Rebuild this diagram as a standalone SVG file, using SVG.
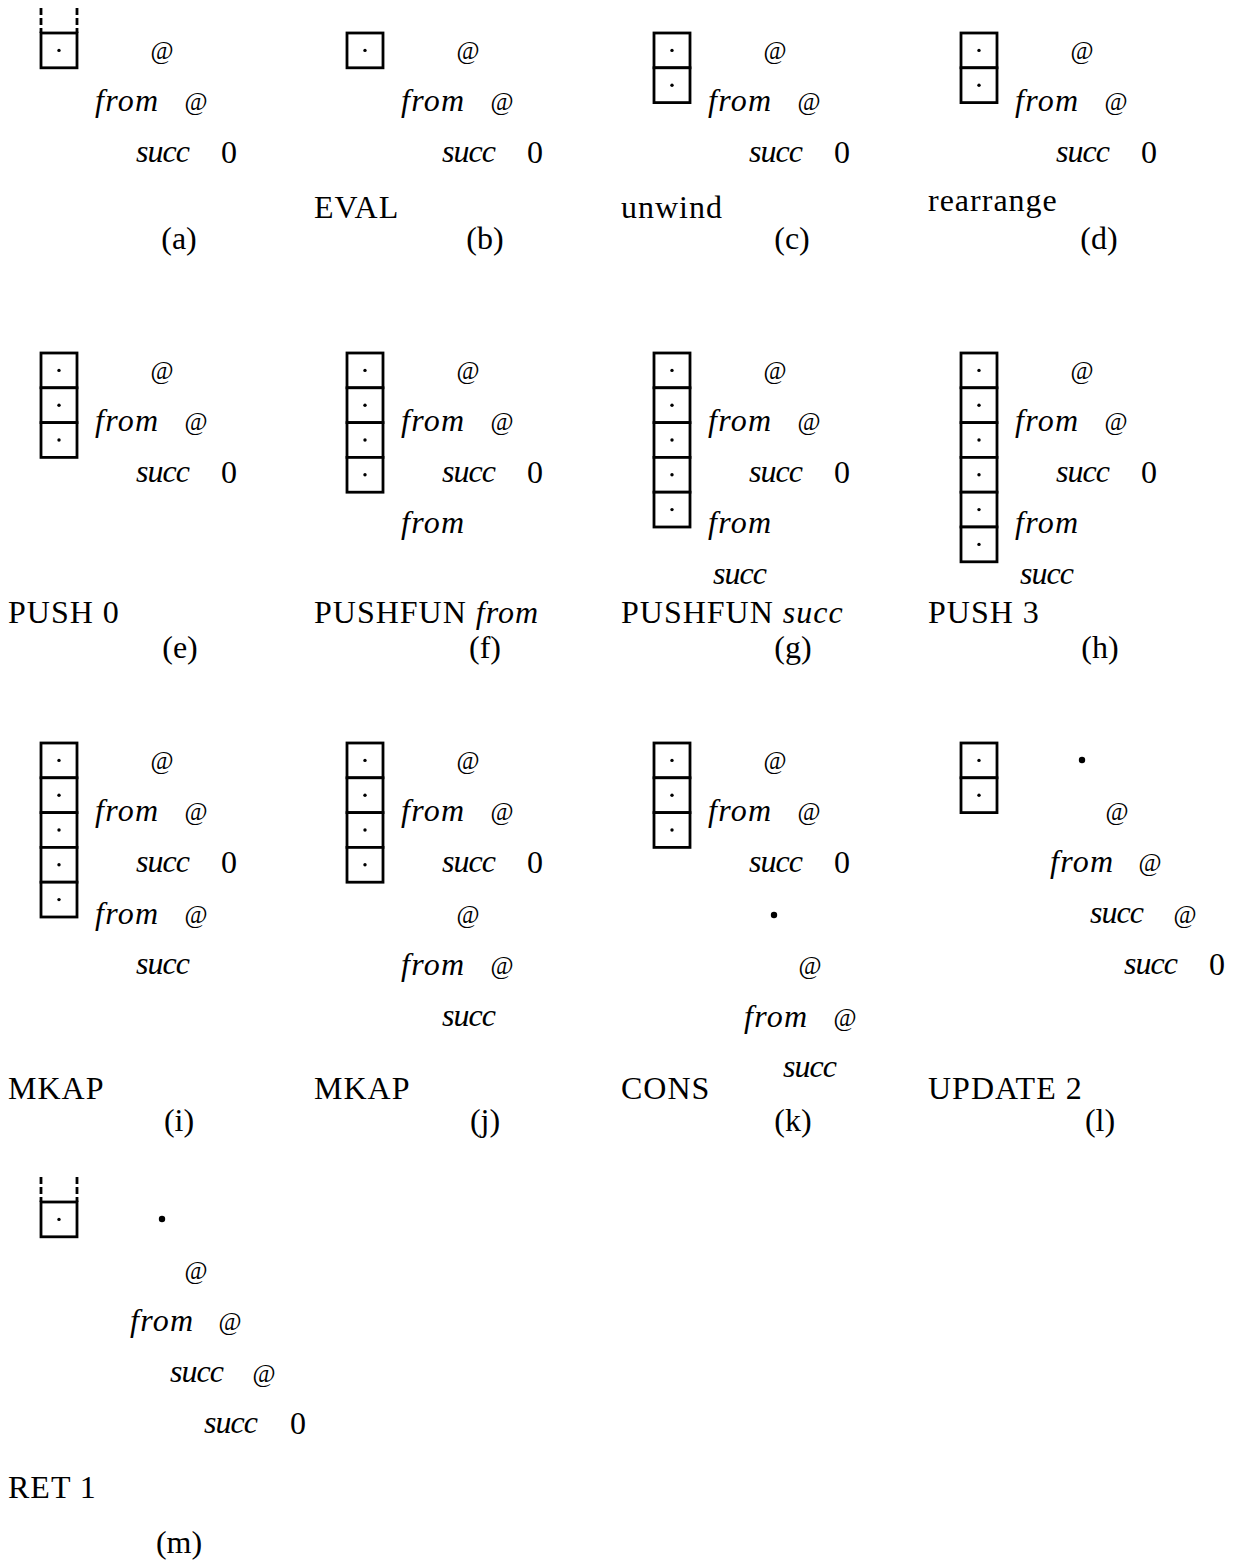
<svg xmlns="http://www.w3.org/2000/svg" xmlns:xlink="http://www.w3.org/1999/xlink" width="1239" height="1564" viewBox="0 0 1239 1564">
<style>
.t{font-family:"Liberation Serif","Times New Roman",serif;font-size:32px;fill:#000}
.op{letter-spacing:1px}
.i{font-style:italic}
.at{font-size:25px;text-anchor:middle}
.m{text-anchor:middle}
.box{fill:#fff;stroke:#000;stroke-width:2.8}
.dash{fill:none;stroke:#000;stroke-width:2.8;stroke-dasharray:7 3}
</style>
<defs>
<g id="cell"><rect x="0" y="0" width="36" height="34.8" class="box"/><circle cx="18" cy="17.4" r="1.7" fill="#000"/></g>
</defs>
<rect width="1239" height="1564" fill="#fff"/>
<g id="connectors"/>

<!-- (a) -->
<g id="panel-a">
<g id="a-stack"><line class="dash" x1="41" y1="8" x2="41" y2="33"/><line class="dash" x1="77" y1="8" x2="77" y2="33"/><use xlink:href="#cell" x="41" y="33"/></g>
<g id="a-tree">
<text id="a-n1" class="t at" x="162" y="59">@</text>
<text id="a-n2" class="t i" x="95" y="111" textLength="63">from</text>
<text id="a-n3" class="t at" x="196" y="110">@</text>
<text id="a-n4" class="t i" x="136" y="162" textLength="54">succ</text>
<text id="a-n5" class="t m" x="229" y="163">0</text>
</g>
<text class="t m" x="179" y="249">(a)</text>
</g>

<!-- (b) -->
<g id="panel-b" transform="translate(306,0)">
<g id="b-stack"><use xlink:href="#cell" x="41" y="33"/></g>
<g id="b-tree">
<text id="b-n1" class="t at" x="162" y="59">@</text>
<text id="b-n2" class="t i" x="95" y="111" textLength="63">from</text>
<text id="b-n3" class="t at" x="196" y="110">@</text>
<text id="b-n4" class="t i" x="136" y="162" textLength="54">succ</text>
<text id="b-n5" class="t m" x="229" y="163">0</text>
</g>
<text class="t op" x="8" y="218">EVAL</text>
<text class="t m" x="179" y="249">(b)</text>
</g>

<!-- (c) -->
<g id="panel-c" transform="translate(613,0)">
<g id="c-stack"><use xlink:href="#cell" x="41" y="33"/><use xlink:href="#cell" x="41" y="67.8"/></g>
<g id="c-tree">
<text id="c-n1" class="t at" x="162" y="59">@</text>
<text id="c-n2" class="t i" x="95" y="111" textLength="63">from</text>
<text id="c-n3" class="t at" x="196" y="110">@</text>
<text id="c-n4" class="t i" x="136" y="162" textLength="54">succ</text>
<text id="c-n5" class="t m" x="229" y="163">0</text>
</g>
<text class="t op" x="8" y="218">unwind</text>
<text class="t m" x="179" y="249">(c)</text>
</g>

<!-- (d) -->
<g id="panel-d" transform="translate(920,0)">
<g id="d-stack"><use xlink:href="#cell" x="41" y="33"/><use xlink:href="#cell" x="41" y="67.8"/></g>
<g id="d-tree">
<text id="d-n1" class="t at" x="162" y="59">@</text>
<text id="d-n2" class="t i" x="95" y="111" textLength="63">from</text>
<text id="d-n3" class="t at" x="196" y="110">@</text>
<text id="d-n4" class="t i" x="136" y="162" textLength="54">succ</text>
<text id="d-n5" class="t m" x="229" y="163">0</text>
</g>
<text class="t op" x="8" y="211">rearrange</text>
<text class="t m" x="179" y="249">(d)</text>
</g>

<!-- (e) -->
<g id="panel-e" transform="translate(0,320)">
<g id="e-stack"><use xlink:href="#cell" x="41" y="33"/><use xlink:href="#cell" x="41" y="67.8"/><use xlink:href="#cell" x="41" y="102.6"/></g>
<g id="e-tree">
<text id="e-n1" class="t at" x="162" y="59">@</text>
<text id="e-n2" class="t i" x="95" y="111" textLength="63">from</text>
<text id="e-n3" class="t at" x="196" y="110">@</text>
<text id="e-n4" class="t i" x="136" y="162" textLength="54">succ</text>
<text id="e-n5" class="t m" x="229" y="163">0</text>
</g>
<text class="t op" x="8" y="303">PUSH 0</text>
<text class="t m" x="180" y="338">(e)</text>
</g>

<!-- (f) -->
<g id="panel-f" transform="translate(306,320)">
<g id="f-stack"><use xlink:href="#cell" x="41" y="33"/><use xlink:href="#cell" x="41" y="67.8"/><use xlink:href="#cell" x="41" y="102.6"/><use xlink:href="#cell" x="41" y="137.4"/></g>
<g id="f-tree">
<text id="f-n1" class="t at" x="162" y="59">@</text>
<text id="f-n2" class="t i" x="95" y="111" textLength="63">from</text>
<text id="f-n3" class="t at" x="196" y="110">@</text>
<text id="f-n4" class="t i" x="136" y="162" textLength="54">succ</text>
<text id="f-n5" class="t m" x="229" y="163">0</text>
<text id="f-n6" class="t i" x="95" y="213" textLength="63">from</text>
</g>
<text class="t op" x="8" y="303">PUSHFUN <tspan class="i">from</tspan></text>
<text class="t m" x="179" y="338">(f)</text>
</g>

<!-- (g) -->
<g id="panel-g" transform="translate(613,320)">
<g id="g-stack"><use xlink:href="#cell" x="41" y="33"/><use xlink:href="#cell" x="41" y="67.8"/><use xlink:href="#cell" x="41" y="102.6"/><use xlink:href="#cell" x="41" y="137.4"/><use xlink:href="#cell" x="41" y="172.2"/></g>
<g id="g-tree">
<text id="g-n1" class="t at" x="162" y="59">@</text>
<text id="g-n2" class="t i" x="95" y="111" textLength="63">from</text>
<text id="g-n3" class="t at" x="196" y="110">@</text>
<text id="g-n4" class="t i" x="136" y="162" textLength="54">succ</text>
<text id="g-n5" class="t m" x="229" y="163">0</text>
<text id="g-n6" class="t i" x="95" y="213" textLength="63">from</text>
<text id="g-n7" class="t i" x="100" y="264" textLength="54">succ</text>
</g>
<text class="t op" x="8" y="303">PUSHFUN <tspan class="i">succ</tspan></text>
<text class="t m" x="180" y="338">(g)</text>
</g>

<!-- (h) -->
<g id="panel-h" transform="translate(920,320)">
<g id="h-stack"><use xlink:href="#cell" x="41" y="33"/><use xlink:href="#cell" x="41" y="67.8"/><use xlink:href="#cell" x="41" y="102.6"/><use xlink:href="#cell" x="41" y="137.4"/><use xlink:href="#cell" x="41" y="172.2"/><use xlink:href="#cell" x="41" y="207"/></g>
<g id="h-tree">
<text id="h-n1" class="t at" x="162" y="59">@</text>
<text id="h-n2" class="t i" x="95" y="111" textLength="63">from</text>
<text id="h-n3" class="t at" x="196" y="110">@</text>
<text id="h-n4" class="t i" x="136" y="162" textLength="54">succ</text>
<text id="h-n5" class="t m" x="229" y="163">0</text>
<text id="h-n6" class="t i" x="95" y="213" textLength="63">from</text>
<text id="h-n7" class="t i" x="100" y="264" textLength="54">succ</text>
</g>
<text class="t op" x="8" y="303">PUSH 3</text>
<text class="t m" x="180" y="338">(h)</text>
</g>

<!-- (i) -->
<g id="panel-i" transform="translate(0,710)">
<g id="i-stack"><use xlink:href="#cell" x="41" y="33"/><use xlink:href="#cell" x="41" y="67.8"/><use xlink:href="#cell" x="41" y="102.6"/><use xlink:href="#cell" x="41" y="137.4"/><use xlink:href="#cell" x="41" y="172.2"/></g>
<g id="i-tree">
<text id="i-n1" class="t at" x="162" y="59">@</text>
<text id="i-n2" class="t i" x="95" y="111" textLength="63">from</text>
<text id="i-n3" class="t at" x="196" y="110">@</text>
<text id="i-n4" class="t i" x="136" y="162" textLength="54">succ</text>
<text id="i-n5" class="t m" x="229" y="163">0</text>
<text id="i-n6" class="t i" x="95" y="214" textLength="63">from</text>
<text id="i-n7" class="t at" x="196" y="213">@</text>
<text id="i-n8" class="t i" x="136" y="264" textLength="54">succ</text>
</g>
<text class="t op" x="8" y="389">MKAP</text>
<text class="t m" x="179" y="421">(i)</text>
</g>

<!-- (j) -->
<g id="panel-j" transform="translate(306,710)">
<g id="j-stack"><use xlink:href="#cell" x="41" y="33"/><use xlink:href="#cell" x="41" y="67.8"/><use xlink:href="#cell" x="41" y="102.6"/><use xlink:href="#cell" x="41" y="137.4"/></g>
<g id="j-tree">
<text id="j-n1" class="t at" x="162" y="59">@</text>
<text id="j-n2" class="t i" x="95" y="111" textLength="63">from</text>
<text id="j-n3" class="t at" x="196" y="110">@</text>
<text id="j-n4" class="t i" x="136" y="162" textLength="54">succ</text>
<text id="j-n5" class="t m" x="229" y="163">0</text>
<text id="j-n6" class="t at" x="162" y="213">@</text>
<text id="j-n7" class="t i" x="95" y="265" textLength="63">from</text>
<text id="j-n8" class="t at" x="196" y="264">@</text>
<text id="j-n9" class="t i" x="136" y="316" textLength="54">succ</text>
</g>
<text class="t op" x="8" y="389">MKAP</text>
<text class="t m" x="179" y="421">(j)</text>
</g>

<!-- (k) -->
<g id="panel-k" transform="translate(613,710)">
<g id="k-stack"><use xlink:href="#cell" x="41" y="33"/><use xlink:href="#cell" x="41" y="67.8"/><use xlink:href="#cell" x="41" y="102.6"/></g>
<g id="k-tree">
<text id="k-n1" class="t at" x="162" y="59">@</text>
<text id="k-n2" class="t i" x="95" y="111" textLength="63">from</text>
<text id="k-n3" class="t at" x="196" y="110">@</text>
<text id="k-n4" class="t i" x="136" y="162" textLength="54">succ</text>
<text id="k-n5" class="t m" x="229" y="163">0</text>
<circle id="k-n6" cx="161" cy="205" r="3.2" fill="#000"/>
<text id="k-n7" class="t at" x="197" y="264">@</text>
<text id="k-n8" class="t i" x="131" y="317" textLength="63">from</text>
<text id="k-n9" class="t at" x="232" y="316">@</text>
<text id="k-n10" class="t i" x="170" y="367" textLength="54">succ</text>
</g>
<text class="t op" x="8" y="389">CONS</text>
<text class="t m" x="180" y="421">(k)</text>
</g>

<!-- (l) -->
<g id="panel-l" transform="translate(920,710)">
<g id="l-stack"><use xlink:href="#cell" x="41" y="33"/><use xlink:href="#cell" x="41" y="67.8"/></g>
<g id="l-tree">
<circle id="l-n1" cx="162" cy="50" r="3.2" fill="#000"/>
<text id="l-n2" class="t at" x="197" y="110">@</text>
<text id="l-n3" class="t i" x="130" y="162" textLength="63">from</text>
<text id="l-n4" class="t at" x="230" y="161">@</text>
<text id="l-n5" class="t i" x="170" y="213" textLength="54">succ</text>
<text id="l-n6" class="t at" x="265" y="213">@</text>
<text id="l-n7" class="t i" x="204" y="264" textLength="54">succ</text>
<text id="l-n8" class="t m" x="297" y="265">0</text>
</g>
<text class="t op" x="8" y="389">UPDATE 2</text>
<text class="t m" x="180" y="421">(l)</text>
</g>

<!-- (m) -->
<g id="panel-m" transform="translate(0,1169)">
<g id="m-stack"><line class="dash" x1="41" y1="8" x2="41" y2="33"/><line class="dash" x1="77" y1="8" x2="77" y2="33"/><use xlink:href="#cell" x="41" y="33"/></g>
<g id="m-tree">
<circle id="m-n1" cx="162" cy="50" r="3.2" fill="#000"/>
<text id="m-n2" class="t at" x="196" y="110">@</text>
<text id="m-n3" class="t i" x="130" y="162" textLength="63">from</text>
<text id="m-n4" class="t at" x="230" y="161">@</text>
<text id="m-n5" class="t i" x="170" y="213" textLength="54">succ</text>
<text id="m-n6" class="t at" x="264" y="213">@</text>
<text id="m-n7" class="t i" x="204" y="264" textLength="54">succ</text>
<text id="m-n8" class="t m" x="298" y="265">0</text>
</g>
<text class="t op" x="8" y="329">RET 1</text>
<text class="t m" x="179" y="384">(m)</text>
</g>
</svg>
